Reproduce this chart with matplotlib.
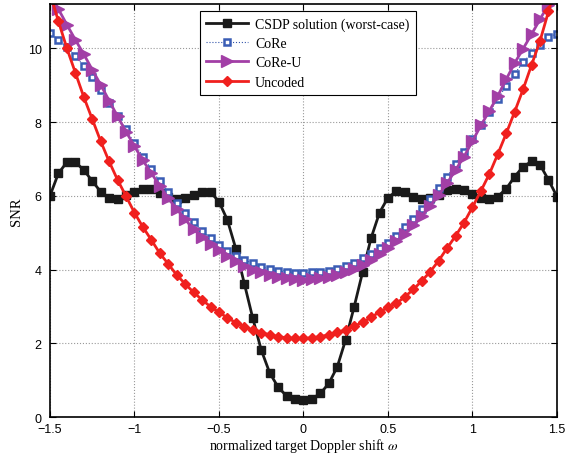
import numpy as np
import matplotlib
matplotlib.use("Agg")
import matplotlib.pyplot as plt

# Doppler shift grid (step 0.05)
omega = np.round(np.arange(-1.5, 1.5001, 0.05), 2)

csdp = [6.00, 6.61, 6.91, 6.91, 6.70, 6.40, 6.11, 5.93, 5.92, 6.02,
        6.11, 6.19, 6.18, 6.07, 5.96, 5.92, 5.95, 6.03, 6.10, 6.10,
        5.84, 5.34, 4.56, 3.62, 2.68, 1.82, 1.20, 0.81, 0.57, 0.48,
        0.46,
        0.49, 0.64, 0.91, 1.36, 2.10, 2.99, 3.93, 4.85, 5.54, 5.95,
        6.12, 6.09, 5.98, 5.91, 5.93, 6.02, 6.15, 6.18, 6.15, 6.05,
        5.95, 5.91, 5.98, 6.19, 6.52, 6.79, 6.93, 6.84, 6.43, 5.98]

core = [10.41, 10.23, 10.03, 9.79, 9.52, 9.21, 8.87, 8.51, 8.15, 7.80,
        7.43, 7.06, 6.72, 6.39, 6.09, 5.80, 5.53, 5.28, 5.05, 4.85,
        4.67, 4.50, 4.37, 4.26, 4.17, 4.08, 4.01, 3.96, 3.92, 3.90,
        3.90,
        3.92, 3.94, 3.97, 4.02, 4.10, 4.19, 4.30, 4.42, 4.58, 4.73,
        4.92, 5.14, 5.37, 5.64, 5.91, 6.21, 6.52, 6.86, 7.20, 7.55,
        7.91, 8.27, 8.63, 8.98, 9.31, 9.62, 9.87, 10.09, 10.30, 10.40]

core_u = [11.45, 11.06, 10.64, 10.23, 9.84, 9.42, 9.01, 8.58, 8.15, 7.74,
          7.34, 6.96, 6.61, 6.27, 5.93, 5.64, 5.36, 5.09, 4.89, 4.69,
          4.53, 4.37, 4.24, 4.10, 4.00, 3.92, 3.85, 3.80, 3.76, 3.73,
          3.72,
          3.73, 3.76, 3.80, 3.86, 3.93, 4.02, 4.12, 4.25, 4.41, 4.58,
          4.76, 4.97, 5.21, 5.45, 5.73, 6.02, 6.34, 6.70, 7.06, 7.48,
          7.91, 8.30, 8.71, 9.16, 9.60, 9.99, 10.38, 10.79, 11.18, 11.60]

uncoded = [11.50, 10.73, 10.00, 9.34, 8.68, 8.08, 7.48, 6.93, 6.43, 5.99,
           5.54, 5.15, 4.80, 4.44, 4.15, 3.85, 3.61, 3.38, 3.18, 2.99,
           2.84, 2.69, 2.56, 2.45, 2.36, 2.29, 2.23, 2.18, 2.15, 2.13,
           2.13,
           2.15, 2.18, 2.23, 2.30, 2.36, 2.46, 2.57, 2.70, 2.85, 2.97,
           3.08, 3.26, 3.46, 3.69, 3.94, 4.24, 4.58, 4.91, 5.27, 5.69,
           6.13, 6.59, 7.13, 7.69, 8.28, 8.89, 9.55, 10.20, 11.00, 11.80]

labels = ["CSDP solution (worst-case)", "CoRe", "CoRe-U", "Uncoded"]
xticks = [-1.5, -1, -0.5, 0, 0.5, 1, 1.5]
yticks = [0, 2, 4, 6, 8, 10]

plt.rcParams['font.family'] = ['Liberation Sans', 'DejaVu Sans']
plt.rcParams['mathtext.fontset'] = 'stix'

fig = plt.figure(figsize=(5.66, 4.56), dpi=100)
ax = fig.add_axes([0.0883, 0.0833, 0.8957, 0.9057])

ax.plot(omega, csdp, color='#1a1a1a', lw=2, marker='s', ms=5.5, label=labels[0])
ax.plot(omega, core, color='#3355aa', lw=0.8, ls=':', marker='s', ms=5,
        mfc='white', mec='#3a5db5', mew=1.8, label=labels[1])
ax.plot(omega, core_u, color='#a23fa6', lw=2, marker='>', ms=8.5,
        mec='#a23fa6', label=labels[2])
ax.plot(omega, uncoded, color='#f0201e', lw=2, marker='D', ms=5.5,
        mec='#f0201e', label=labels[3])

ax.set_xlim(-1.5, 1.5)
ax.set_ylim(0, 11.2)
ax.set_xticks(xticks)
ax.set_xticklabels(["\u22121.5", "\u22121", "\u22120.5", "0", "0.5", "1", "1.5"])
ax.set_yticks(yticks)
ax.tick_params(direction='in', top=True, right=True, labelsize=9, length=4, width=0.8)
ax.tick_params(axis='x', pad=4)
ax.tick_params(axis='y', pad=6)
ax.grid(True, ls=':', color='#999999', lw=0.8)
for s in ax.spines.values():
    s.set_linewidth(1.2)

ax.set_xlabel(r"normalized target Doppler shift $\omega$", family='Liberation Serif', fontsize=10, labelpad=1)
ax.set_ylabel("SNR", family='Liberation Serif', fontsize=10.5, labelpad=3)

leg = ax.legend(loc='upper left', bbox_to_anchor=(0.296, 0.983), borderaxespad=0,
                prop={'family': 'Liberation Serif', 'size': 10}, fancybox=False,
                edgecolor='black', framealpha=1, handlelength=3.0,
                labelspacing=0.45, borderpad=0.45, handletextpad=0.5)
leg.get_frame().set_linewidth(0.8)

fig.savefig("out.png", dpi=100)
